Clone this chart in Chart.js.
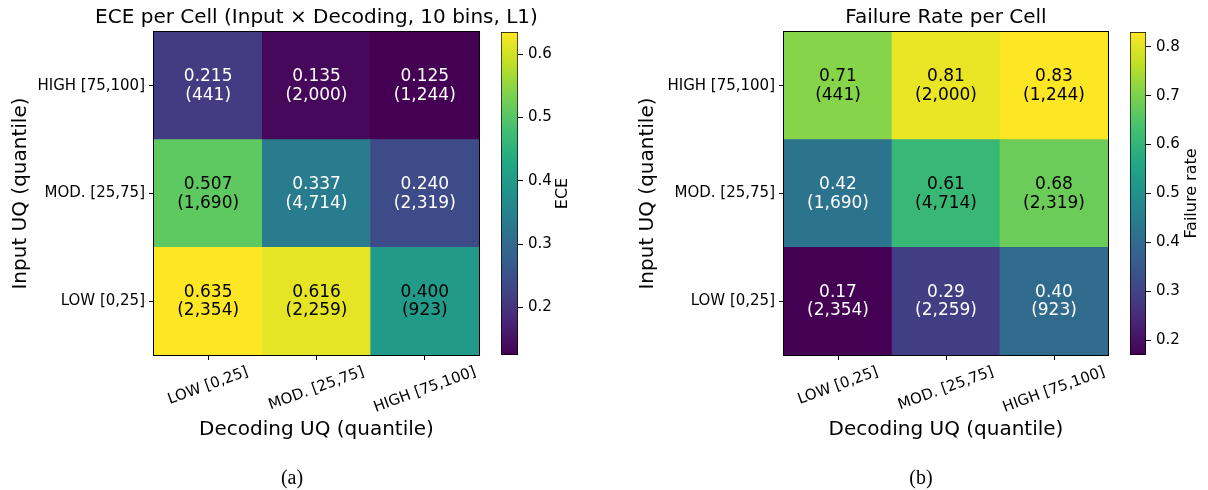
<!DOCTYPE html>
<html>
<head>
<meta charset="utf-8">
<script src="https://cdn.jsdelivr.net/npm/chart.js@4"></script>
<style>
  body { margin: 0; background: #fff; }
  #page { position: relative; width: 1208px; height: 490px; overflow: hidden; }
  canvas { position: absolute; top: 0; }
  .caption { position: absolute; top: 465px; width: 100px; text-align: center; font: 20px "Liberation Serif"; line-height: 24px; color: #000; }
</style>
</head>
<body>
<div id="page">
  <canvas id="eceChart" width="630" height="490" style="left:0"></canvas>
  <canvas id="eceBar" width="110" height="490" style="left:480px"></canvas>
  <canvas id="failChart" width="660" height="490" style="left:604px"></canvas>
  <canvas id="failBar" width="98" height="490" style="left:1110px"></canvas>
  <div class="caption" style="left:242px">(a)</div>
  <div class="caption" style="left:871px">(b)</div>
</div>
<script>
// Categories (input rows listed bottom to top)
const DECODING_LABELS = ["LOW [0,25]", "MOD. [25,75]", "HIGH [75,100]"]
const INPUT_LABELS = ["LOW [0,25]", "MOD. [25,75]", "HIGH [75,100]"]

// ECE per cell, one array per input row
const ECE_LOW = [0.635, 0.616, 0.4]
const ECE_MOD = [0.507, 0.337, 0.24]
const ECE_HIGH = [0.215, 0.135, 0.125]

// Failure rate per cell
const FAIL_LOW = [0.17, 0.29, 0.4]
const FAIL_MOD = [0.42, 0.61, 0.68]
const FAIL_HIGH = [0.71, 0.81, 0.83]

// Sample counts per cell
const COUNT_LOW = [2354, 2259, 923]
const COUNT_MOD = [1690, 4714, 2319]
const COUNT_HIGH = [441, 2000, 1244]

// Colorbar ticks
const ECE_TICKS = [0.2, 0.3, 0.4, 0.5, 0.6]
const FAIL_TICKS = [0.2, 0.3, 0.4, 0.5, 0.6, 0.7, 0.8]

Chart.defaults.font.family = "'DejaVu Sans'"
Chart.defaults.color = "#000"
Chart.defaults.animation = false
Chart.defaults.responsive = false

// Viridis colormap
const VIRIDIS = [
  [68, 1, 84], [72, 36, 117], [65, 68, 135], [53, 95, 141], [42, 120, 142], [33, 145, 140],
  [34, 168, 132], [68, 191, 112], [122, 209, 81], [189, 223, 38], [253, 231, 37],
]

function viridis(t) {
  const s = Math.min(1, Math.max(0, t)) * (VIRIDIS.length - 1)
  const i = Math.min(VIRIDIS.length - 2, Math.floor(s))
  const f = s - i
  const c = VIRIDIS[i].map((v, k) => Math.round(v + (VIRIDIS[i + 1][k] - v) * f))
  return `rgb(${c})`
}

function viridisGradient(chart) {
  const area = chart.chartArea
  if (!area) return viridis(0)
  const g = chart.ctx.createLinearGradient(0, area.bottom, 0, area.top)
  VIRIDIS.forEach((c, i) => g.addColorStop(i / (VIRIDIS.length - 1), `rgb(${c})`))
  return g
}

const tickGrid = { offset: false, drawOnChartArea: false, tickLength: 5, tickColor: "#000" }

// Value + count text inside each cell
function cellText(rows, counts, digits, norm) {
  return {
    id: "cellText",
    afterDatasetsDraw(chart) {
      const { ctx } = chart
      ctx.save()
      ctx.font = "17px 'DejaVu Sans'"
      ctx.textAlign = "center"
      ctx.textBaseline = "alphabetic"
      rows.forEach((row, r) => {
        chart.getDatasetMeta(r).data.forEach((bar, c) => {
          const cy = (bar.y + bar.base) / 2
          ctx.fillStyle = norm(row[c]) > 0.5 ? "#000" : "#fff"
          ctx.fillText(row[c].toFixed(digits), bar.x, cy - 4.5)
          ctx.fillText("(" + counts[r][c].toLocaleString("en-US") + ")", bar.x, cy + 14)
        })
      })
      ctx.restore()
    },
  }
}

// x tick labels rotated 20deg, centred under each tick
const xTickText = {
  id: "xTickText",
  afterDraw(chart) {
    const { ctx } = chart
    const scale = chart.scales.x
    const angle = (20 * Math.PI) / 180
    ctx.save()
    ctx.font = "15px 'DejaVu Sans'"
    ctx.fillStyle = "#000"
    ctx.textAlign = "center"
    ctx.textBaseline = "middle"
    scale.ticks.forEach((tick, i) => {
      const w = ctx.measureText(tick.label).width
      const x = scale.getPixelForTick(i)
      const y = scale.top + 8.5 + (w / 2) * Math.sin(angle) + 8.5 * Math.cos(angle)
      ctx.save()
      ctx.translate(x, y)
      ctx.rotate(-angle)
      ctx.fillText(tick.label, 0, 0)
      ctx.restore()
    })
    ctx.restore()
  },
}

// Box round the heatmap
const frame = {
  id: "frame",
  afterDraw(chart) {
    const { ctx, chartArea: a } = chart
    ctx.save()
    ctx.strokeStyle = "#000"
    ctx.lineWidth = 1
    ctx.strokeRect(Math.round(a.left) - 0.5, Math.round(a.top) - 0.5, Math.round(a.right - a.left) + 1, Math.round(a.bottom - a.top) + 1)
    ctx.restore()
  },
}

// Rotated colorbar label
const cbLabel = {
  id: "cbLabel",
  afterDraw(chart, args, opts) {
    const { ctx, chartArea: a } = chart
    ctx.save()
    ctx.font = "16px 'DejaVu Sans'"
    ctx.fillStyle = "#000"
    ctx.textAlign = "center"
    ctx.textBaseline = "middle"
    ctx.translate(a.right + opts.offset, (a.top + a.bottom) / 2)
    ctx.rotate(-Math.PI / 2)
    ctx.fillText(opts.text, 0, 0)
    ctx.restore()
  },
}

function heatmap(canvasId, rows, counts, digits, title, layout) {
  const all = rows.flat()
  const vmin = Math.min(...all)
  const vmax = Math.max(...all)
  const norm = (v) => (v - vmin) / (vmax - vmin)

  return new Chart(document.getElementById(canvasId), {
    type: "bar",
    data: {
      labels: DECODING_LABELS,
      datasets: rows.map((row, r) => ({
        label: INPUT_LABELS[r],
        data: row.map(() => 1),
        backgroundColor: row.map((v) => viridis(norm(v))),
        borderWidth: 0,
        barPercentage: 1,
        categoryPercentage: 1,
      })),
    },
    options: {
      layout: { padding: layout.padding },
      scales: {
        x: {
          stacked: true,
          grid: tickGrid,
          border: { display: false },
          ticks: { display: false },
          title: { display: true, text: "Decoding UQ (quantile)", font: { size: 20 }, padding: 0 },
          afterFit: (s) => { s.height = 87 },
        },
        y: {
          stacked: true,
          min: 0,
          max: INPUT_LABELS.length,
          afterBuildTicks: (s) => { s.ticks = INPUT_LABELS.map((_, i) => ({ value: i + 0.5 })) },
          grid: tickGrid,
          border: { display: false },
          ticks: { font: { size: 15 }, padding: 4, callback: (v, i) => INPUT_LABELS[i] },
          title: { display: true, text: "Input UQ (quantile)", font: { size: 20 }, padding: 0 },
          afterFit: (s) => { s.width = layout.yWidth },
        },
        // empty right axis, keeps the title centred over the cells
        y2: {
          position: "right",
          min: 0,
          max: 1,
          grid: { display: false },
          border: { display: false },
          ticks: { display: false },
          afterFit: (s) => { s.width = layout.spacer },
        },
      },
      plugins: {
        legend: { display: false },
        tooltip: { enabled: false },
        title: {
          display: true,
          text: title,
          font: { size: 20, weight: "normal" },
          color: "#000",
          padding: { top: 6, bottom: 2 },
        },
      },
    },
    plugins: [cellText(rows, counts, digits, norm), xTickText, frame],
  })
}

function colorbar(canvasId, rows, ticks, label, layout) {
  const all = rows.flat()
  const vmin = Math.min(...all)
  const vmax = Math.max(...all)

  return new Chart(document.getElementById(canvasId), {
    type: "bar",
    data: {
      labels: [label],
      datasets: [
        {
          data: [[vmin, vmax]],
          backgroundColor: (c) => viridisGradient(c.chart),
          borderColor: "#000",
          borderWidth: 1,
          borderSkipped: false,
          barPercentage: 1,
          categoryPercentage: 1,
        },
      ],
    },
    options: {
      layout: { padding: layout.padding },
      scales: {
        x: { display: false },
        y: {
          position: "right",
          min: vmin,
          max: vmax,
          afterBuildTicks: (s) => { s.ticks = ticks.map((v) => ({ value: v })) },
          grid: tickGrid,
          border: { display: false },
          ticks: { font: { size: 15 }, padding: 5, callback: (v) => v.toFixed(1) },
          afterFit: (s) => { s.width = 40 },
        },
      },
      plugins: {
        legend: { display: false },
        tooltip: { enabled: false },
        cbLabel: { text: label, offset: layout.labelOffset },
      },
    },
    plugins: [cbLabel],
  })
}

const eceRows = [ECE_LOW, ECE_MOD, ECE_HIGH]
const failRows = [FAIL_LOW, FAIL_MOD, FAIL_HIGH]
const countRows = [COUNT_LOW, COUNT_MOD, COUNT_HIGH]

heatmap("eceChart", eceRows, countRows, 3, "ECE per Cell (Input \u00d7 Decoding, 10 bins, L1)", {
  padding: { left: 9, right: 6, top: 0, bottom: 48 },
  yWidth: 145,
  spacer: 145,
})
colorbar("eceBar", eceRows, ECE_TICKS, "ECE", {
  padding: { left: 21, right: 32, top: 32, bottom: 135 },
  labelOffset: 45,
})

heatmap("failChart", failRows, countRows, 2, "Failure Rate per Cell", {
  padding: { left: 32, right: 8, top: 0, bottom: 48 },
  yWidth: 148,
  spacer: 148,
})
colorbar("failBar", failRows, FAIL_TICKS, "Failure rate", {
  padding: { left: 20, right: 22, top: 32, bottom: 135 },
  labelOffset: 46,
})
</script>
</body>
</html>
